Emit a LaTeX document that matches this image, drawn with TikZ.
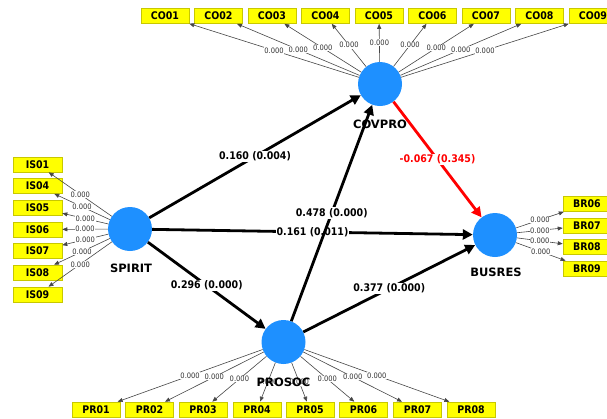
\documentclass[tikz,border=0pt]{standalone}
\usepackage{fontspec}
\setmainfont[FakeStretch=0.9]{DejaVu Sans}
\newfontfamily\latfont{DejaVu Sans}
\usetikzlibrary{arrows.meta}
\definecolor{lvblue}{RGB}{30,144,255}
\definecolor{boxyellow}{RGB}{255,255,0}
\definecolor{boxborder}{RGB}{200,200,0}
\definecolor{indline}{RGB}{70,70,70}
\tikzset{
 lv/.style={circle, fill=lvblue, minimum size=44pt, inner sep=0pt},
 lvlabel/.style={font=\latfont\bfseries\fontsize{11.5}{12}\selectfont, inner sep=0pt},
 ind/.style={draw=boxborder, fill=boxyellow, line width=0.6pt, minimum width=48pt, minimum height=15pt, inner sep=0pt, font=\bfseries\fontsize{10.5}{11}\selectfont},
 indedge/.style={draw=indline, line width=0.6pt, -{Triangle[length=5pt,width=4pt]}},
 smalllab/.style={fill=white, inner sep=0.5pt, font=\fontsize{7.5}{7.5}\selectfont, text=black!80},
 pathedge/.style={line width=2.8pt, -{Triangle[length=10pt,width=10pt]}},
 pathlab/.style={fill=white, inner sep=1pt, font=\bfseries\fontsize{10.5}{11}\selectfont},
}
\begin{document}
\begin{tikzpicture}[x=1pt,y=-1pt]
\useasboundingbox (0,0) rectangle (607,418);
\clip (0,0) rectangle (607,418);
% latent variables
\node[lv] (covpro) at (380,84) {};
\node[lv] (spirit) at (130,229) {};
\node[lv] (busres) at (495,235) {};
\node[lv] (prosoc) at (283.5,342) {};
% indicators
\foreach \n/\x in {01/165,02/218.5,03/272,04/325.5,05/379,06/432.5,07/486,08/539.5,09/593}
  \node[ind] (co\n) at (\x,16) {CO\n};
\foreach \n/\y in {01/164.5,04/186,05/207.5,06/229.5,07/251,08/272.5,09/294.5}
  \node[ind, minimum width=49pt] (is\n) at (37.5,\y) {IS\n};
\foreach \n/\y in {06/204,07/225.5,08/247,09/268.5}
  \node[ind] (br\n) at (587,\y) {BR\n};
\foreach \n/\x in {01/96,02/149.5,03/203,04/257,05/310,06/363.5,07/417.5,08/471}
  \node[ind] (pr\n) at (\x,409.5) {PR\n};
% indicator edges
\foreach \n in {01,02,03,04,05,06,07,08,09}
  \draw[indedge] (covpro) -- node[smalllab]{0.000} (co\n);
\foreach \n in {01,04,05,06,07,08,09}
  \draw[indedge] (spirit) -- node[smalllab]{0.000} (is\n);
\foreach \n in {06,07,08,09}
  \draw[indedge] (busres) -- node[smalllab]{0.000} (br\n);
\foreach \n in {01,02,03,04,05,06,07,08}
  \draw[indedge] (prosoc) -- node[smalllab]{0.000} (pr\n);
% structural paths
\draw[pathedge] (spirit) -- node[pathlab]{0.161 (0.011)} (busres);
\draw[pathedge] (spirit) -- node[pathlab]{0.160 (0.004)} (covpro);
\draw[pathedge] (spirit) -- node[pathlab]{0.296 (0.000)} (prosoc);
\draw[pathedge] (prosoc) -- node[pathlab]{0.377 (0.000)} (busres);
\draw[pathedge] (prosoc) -- node[pathlab]{0.478 (0.000)} (covpro);
\draw[pathedge, red] (covpro) -- node[pathlab, text=red]{-0.067 (0.345)} (busres);
% latent labels
\node[lvlabel] (covprolab) at (380,124) {COVPRO};
\node[lvlabel] (spiritlab) at (131,268) {SPIRIT};
\node[lvlabel] (busreslab) at (496,272) {BUSRES};
\node[lvlabel] (prosoclab) at (283.5,382) {PROSOC};
\end{tikzpicture}
\end{document}
